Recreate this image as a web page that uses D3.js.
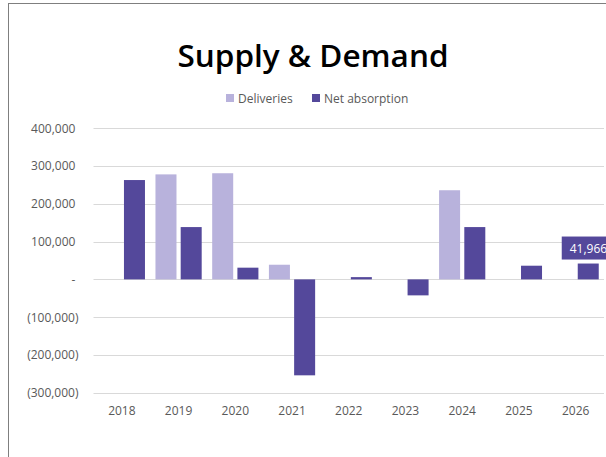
<!DOCTYPE html>
<html>
<head>
<meta charset="utf-8">
<script src="https://cdn.jsdelivr.net/npm/d3@7"></script>
<style>
  body { margin: 0; background: #fff; }
  svg { display: block; font-family: "Open Sans", sans-serif; }
</style>
</head>
<body>
<div id="chart"></div>
<script>
// chart values
const years = ["2018", "2019", "2020", "2021", "2022", "2023", "2024", "2025", "2026"];
const deliveries = [0, 278000, 281000, 38800, 0, 0, 236000, 0, 0];
const netAbsorption = [263000, 138500, 31000, -254000, 6000, -42300, 138500, 36200, 41966];
const seriesNames = ["Deliveries", "Net absorption"];
const yTicks = [-300000, -200000, -100000, 0, 100000, 200000, 300000, 400000];

const colors = {"Deliveries": "#b8b2dc", "Net absorption": "#54489b"};

const W = 606, H = 457;
const margin = {top: 128, right: 2, bottom: 64, left: 93.5};

const svg = d3.select("#chart").append("svg")
    .attr("width", W)
    .attr("height", H);

// outer frame (chart area runs past the right edge)
svg.append("rect")
    .attr("x", 8.5).attr("y", 3.5)
    .attr("width", 640).attr("height", 470)
    .attr("fill", "none")
    .attr("stroke", "#7f7f7f")
    .attr("stroke-width", 1);

// title
svg.append("text")
    .attr("x", 313).attr("y", 67)
    .attr("text-anchor", "middle")
    .style("font-size", "31.5px")
    .style("font-weight", 600)
    .attr("fill", "#000")
    .text("Supply & Demand");

// legend
const legend = svg.append("g").attr("transform", "translate(226,98)");
const legendX = [0, 86];
seriesNames.forEach((name, i) => {
    const g = legend.append("g").attr("transform", `translate(${legendX[i]},0)`);
    g.append("rect")
        .attr("x", 0).attr("y", -4)
        .attr("width", 8).attr("height", 8)
        .attr("fill", colors[name]);
    g.append("text")
        .attr("x", 12).attr("y", 4.5)
        .style("font-size", "12px")
        .attr("fill", "#595959")
        .text(name);
});

// scales
const x = d3.scaleBand()
    .domain(years)
    .range([margin.left, W - margin.right]);

const y = d3.scaleLinear()
    .domain([-300000, 400000])
    .range([392.7, 128.3]);

// bar layout: 50% gap width, -20% overlap
const barW = x.bandwidth() / 2.7;
const inner = barW * 0.2;
const outer = barW * 0.25;

// gridlines
svg.append("g")
    .selectAll("line")
    .data(yTicks)
    .join("line")
    .attr("x1", margin.left)
    .attr("x2", W - margin.right)
    .attr("y1", d => Math.round(y(d)) + 0.5)
    .attr("y2", d => Math.round(y(d)) + 0.5)
    .attr("stroke", "#d9d9d9")
    .attr("stroke-width", 1.2);

// y-axis labels
const fmt = d3.format(",");
const yAxis = svg.append("g")
    .attr("transform", `translate(${margin.left - 15},0)`)
    .call(d3.axisLeft(y)
        .tickValues(yTicks)
        .tickSize(0)
        .tickPadding(0)
        .tickFormat(d => d === 0 ? "- " : d < 0 ? `(${fmt(-d)})` : fmt(d) + " "));
yAxis.select(".domain").remove();
yAxis.selectAll("text")
    .style("font-size", "12px")
    .style("font-family", "\"Open Sans\", sans-serif")
    .attr("fill", "#595959")
    .attr("xml:space", "preserve")
    .style("white-space", "pre");

// x-axis labels
const xAxis = svg.append("g")
    .attr("transform", `translate(0,${y(-300000) + 14})`)
    .call(d3.axisBottom(x).tickSize(0).tickPadding(0));
xAxis.select(".domain").remove();
xAxis.selectAll("text")
    .attr("dy", "0.71em")
    .style("font-size", "12px")
    .style("font-family", "\"Open Sans\", sans-serif")
    .attr("fill", "#595959");

// bars
const seriesData = [deliveries, netAbsorption];
seriesNames.forEach((name, s) => {
    const vals = seriesData[s];
    svg.append("g")
        .selectAll("rect")
        .data(years.map((yr, i) => ({year: yr, value: vals[i]})).filter(d => d.value !== 0))
        .join("rect")
        .attr("x", d => x(d.year) + outer + s * (barW + inner))
        .attr("width", barW)
        .attr("y", d => y(Math.max(0, d.value)))
        .attr("height", d => Math.abs(y(d.value) - y(0)))
        .attr("fill", colors[name]);
});

// data label on last net absorption bar
const lastI = years.length - 1;
const lx = x(years[lastI]) + outer + barW + inner - 16;
const label = svg.append("g").attr("transform", `translate(${lx},${y(netAbsorption[lastI]) - 27})`);
label.append("rect")
    .attr("x", 0).attr("y", 0)
    .attr("width", 60).attr("height", 23)
    .attr("fill", colors["Net absorption"]);
label.append("text")
    .attr("x", 8).attr("y", 16)
    .style("font-size", "12px")
    .attr("fill", "#fff")
    .text(fmt(netAbsorption[lastI]));
</script>
</body>
</html>
